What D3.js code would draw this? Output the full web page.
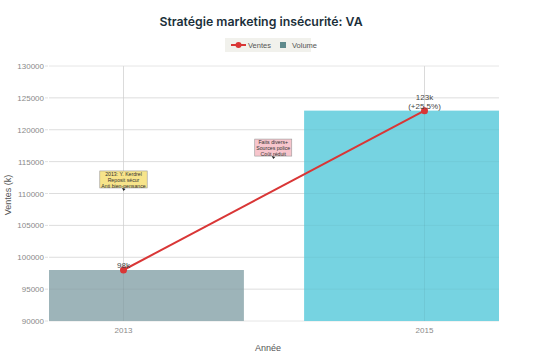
<!DOCTYPE html>
<html><head><meta charset="utf-8">
<script src="https://cdn.jsdelivr.net/npm/d3@7"></script>
<style>body{margin:0;background:#fff}svg{font-family:"Liberation Sans",Arial,sans-serif}</style>
</head><body><svg id="c" width="535" height="357"></svg>
<script>
const years = [2013, 2015];
const ventes = [98000, 123000];
const barColors = ["#9db4b9", "#76d3e1"];
const pointLabels = [["98k"], ["123k", "(+25.5%)"]];
const yTicks = [90000, 95000, 100000, 105000, 110000, 115000, 120000, 125000, 130000];
const notes = [
  {year: 2013, value: 110400, lines: ["2013: Y. Kerdrel", "Reposit sécur", "Anti bien-pensance"], fill: "#f7e48a"},
  {year: 2015 - 1.005, value: 115400, lines: ["Faits divers+", "Sources police", "Coût réduit"], fill: "#f7c5cc"}
];

const svg = d3.select("#c");
const M = {l: 49, r: 499, t: 66, b: 321};
const x = d3.scaleLinear().domain([2012.505, 2015.495]).range([M.l, M.r]);
const y = d3.scaleLinear().domain([90000, 130000]).range([M.b, M.t]);

// grid
svg.append("g").selectAll("line").data(yTicks).join("line")
  .attr("x1", M.l).attr("x2", M.r).attr("y1", d => y(d)).attr("y2", d => y(d))
  .attr("stroke", "#e6e6e6").attr("stroke-width", 1);
svg.append("g").selectAll("line").data(years).join("line")
  .attr("x1", d => x(d)).attr("x2", d => x(d)).attr("y1", M.t).attr("y2", M.b)
  .attr("stroke", "#e6e6e6").attr("stroke-width", 1);

// y axis labels
svg.append("g").selectAll("text").data(yTicks).join("text")
  .attr("x", 44).attr("y", d => y(d) + 3).attr("text-anchor", "end")
  .attr("font-size", 8).attr("fill", "#8a8a8a").text(d => d);
svg.append("g").selectAll("line").data(yTicks).join("line")
  .attr("x1", 45).attr("x2", 48).attr("y1", d => y(d)).attr("y2", d => y(d))
  .attr("stroke", "#e0e0e0");

// bars
svg.append("defs").append("clipPath").attr("id", "clip")
  .append("rect").attr("x", M.l).attr("y", M.t).attr("width", M.r - M.l).attr("height", M.b - M.t);
const bw = 1.6;
svg.append("g").attr("clip-path", "url(#clip)").selectAll("rect").data(years).join("rect")
  .attr("x", d => x(d - bw / 2)).attr("width", x(bw) - x(0))
  .attr("y", (d, i) => y(ventes[i])).attr("height", (d, i) => M.b - y(ventes[i]))
  .attr("fill", (d, i) => barColors[i]);

// gridlines faintly over bars
svg.append("g").selectAll("line").data(years).join("line")
  .attr("x1", d => x(d)).attr("x2", d => x(d)).attr("y1", M.t).attr("y2", M.b)
  .attr("stroke", "#000").attr("stroke-opacity", 0.05);
svg.append("g").selectAll("line").data(yTicks.slice(1, -1)).join("line")
  .attr("x1", M.l).attr("x2", M.r).attr("y1", d => y(d)).attr("y2", d => y(d))
  .attr("stroke", "#000").attr("stroke-opacity", 0.04);

// x labels
svg.append("g").selectAll("text").data(years).join("text")
  .attr("x", d => x(d)).attr("y", 333).attr("text-anchor", "middle")
  .attr("font-size", 8).attr("fill", "#8a8a8a").text(d => d);

// line
const line = d3.line().x((d, i) => x(years[i])).y(d => y(d));
svg.append("path").datum(ventes).attr("d", line).attr("fill", "none")
  .attr("stroke", "#d93636").attr("stroke-width", 2);
svg.append("g").selectAll("circle").data(ventes).join("circle")
  .attr("cx", (d, i) => x(years[i])).attr("cy", d => y(d)).attr("r", 3.5).attr("fill", "#d93636");

// point labels
pointLabels.forEach((ls, i) => {
  const n = ls.length;
  ls.forEach((t, j) => {
    svg.append("text").attr("x", x(years[i])).attr("y", y(ventes[i]) - 2 - (n - 1 - j) * 8.5)
      .attr("text-anchor", "middle").attr("font-size", 8).attr("fill", "#444").text(t);
  });
});

// annotations
notes.forEach(n => {
  const cx = x(n.year), tipY = y(n.value);
  const g = svg.append("g");
  const fs = 5.2, lh = 5.8;
  const top = tipY - 20;
  const texts = n.lines.map((t, j) => g.append("text").attr("x", cx).attr("y", top + 5.3 + j * lh)
    .attr("text-anchor", "middle").attr("font-size", fs).attr("fill", "#333").text(t));
  let w = 0; texts.forEach(t => w = Math.max(w, t.node().getComputedTextLength()));
  const bh = 17;
  g.insert("rect", "text").attr("x", cx - w / 2 - 1.5).attr("y", top).attr("width", w + 3).attr("height", bh)
    .attr("fill", n.fill).attr("stroke", "#999").attr("stroke-width", 0.6);
  g.append("path").attr("d", `M${cx - 1.5},${tipY - 3} L${cx + 2},${tipY - 2} L${cx},${tipY} Z`).attr("fill", "#222");
});

// title
svg.append("text").attr("x", 261).attr("y", 26).attr("text-anchor", "middle")
  .attr("font-family", "Inter, 'Liberation Sans', sans-serif")
  .attr("font-size", 12.3).attr("font-weight", 600).attr("fill", "#1b2f3a")
  .text("Stratégie marketing insécurité: VA");

// legend
const lg = svg.append("g");
lg.append("rect").attr("x", 225).attr("y", 38).attr("width", 86).attr("height", 14).attr("fill", "#f1f1ec");
lg.append("line").attr("x1", 231).attr("x2", 246).attr("y1", 45).attr("y2", 45).attr("stroke", "#d93636").attr("stroke-width", 2);
lg.append("circle").attr("cx", 238.5).attr("cy", 45).attr("r", 3).attr("fill", "#d93636");
lg.append("text").attr("x", 248).attr("y", 48).attr("font-size", 7.5).attr("fill", "#555").text("Ventes");
lg.append("rect").attr("x", 280).attr("y", 42).attr("width", 6).attr("height", 6).attr("fill", "#5f8a8c");
lg.append("text").attr("x", 292).attr("y", 48).attr("font-size", 7.5).attr("fill", "#555").text("Volume");

// axis titles
svg.append("text").attr("x", 268).attr("y", 351).attr("text-anchor", "middle")
  .attr("font-size", 9).attr("fill", "#555").text("Année");
svg.append("text").attr("transform", "translate(11,195) rotate(-90)").attr("text-anchor", "middle")
  .attr("font-size", 9).attr("fill", "#555").text("Ventes (k)");
</script></body></html>
